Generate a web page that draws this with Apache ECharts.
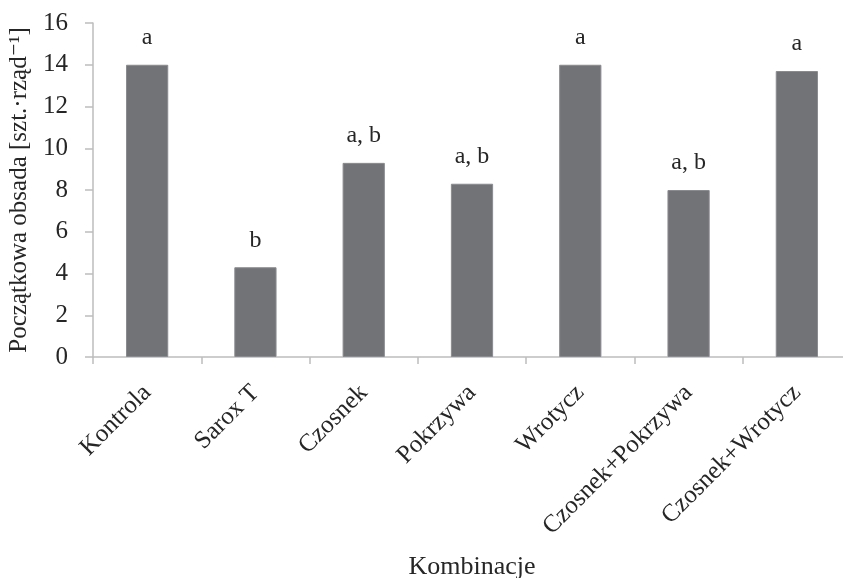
<!DOCTYPE html>
<html>
<head>
<meta charset="utf-8">
<script src="https://cdn.jsdelivr.net/npm/echarts@6/dist/echarts.min.js"></script>
<style>
  html, body { margin: 0; padding: 0; background: #ffffff; }
  #chart { width: 843px; height: 578px; }
</style>
</head>
<body>
<div id="chart"></div>
<script>
// Treatment combinations and initial plant density per row
const categories = ['Kontrola', 'Sarox T', 'Czosnek', 'Pokrzywa', 'Wrotycz', 'Czosnek+Pokrzywa', 'Czosnek+Wrotycz'];
const values = [14.0, 4.3, 9.3, 8.3, 14.0, 8.0, 13.7];
// Homogeneous group letters shown above bars
const groups = ['a', 'b', 'a, b', 'a, b', 'a', 'a, b', 'a'];
const yTicks = [0, 2, 4, 6, 8, 10, 12, 14, 16];

const serif = '"Liberation Serif", "DejaVu Serif", serif';
const textColor = '#262626';
const axisGray = '#bdbdbd';

const chart = echarts.init(document.getElementById('chart'));
chart.setOption({
  animation: false,
  backgroundColor: '#ffffff',
  grid: {
    left: 93, top: 23, bottom: 221, width: 758,
    containLabel: false,
    outerBoundsMode: 'none'
  },
  xAxis: {
    type: 'category',
    data: categories,
    name: 'Kombinacje',
    nameLocation: 'middle',
    nameGap: 197,
    nameTextStyle: { fontFamily: serif, fontSize: 26, color: textColor },
    axisLine: { lineStyle: { color: axisGray, width: 1.5 } },
    axisTick: { show: true, length: 7, lineStyle: { color: axisGray, width: 1.5 } },
    axisLabel: {
      rotate: 45, interval: 0, margin: 32,
      fontFamily: serif, fontSize: 25, color: textColor
    }
  },
  yAxis: {
    type: 'value',
    min: yTicks[0],
    max: yTicks[yTicks.length - 1],
    interval: 2,
    name: 'Początkowa obsada [szt.·rząd⁻¹]',
    nameLocation: 'middle',
    nameGap: 60,
    nameTextStyle: { fontFamily: serif, fontSize: 25, color: textColor },
    axisLine: { show: true, lineStyle: { color: axisGray, width: 1.5 } },
    axisTick: { show: true, length: 8, lineStyle: { color: axisGray, width: 1.5 } },
    splitLine: { show: false },
    axisLabel: { margin: 25, fontFamily: serif, fontSize: 25, color: textColor }
  },
  series: [{
    type: 'bar',
    data: values,
    barWidth: '39%',
    itemStyle: { color: '#727377', borderColor: '#8a8b8f', borderWidth: 1 },
    label: {
      show: true,
      position: 'top',
      distance: 15,
      fontFamily: serif,
      fontSize: 24,
      color: textColor,
      formatter: p => groups[p.dataIndex]
    }
  }]
});
</script>
</body>
</html>
